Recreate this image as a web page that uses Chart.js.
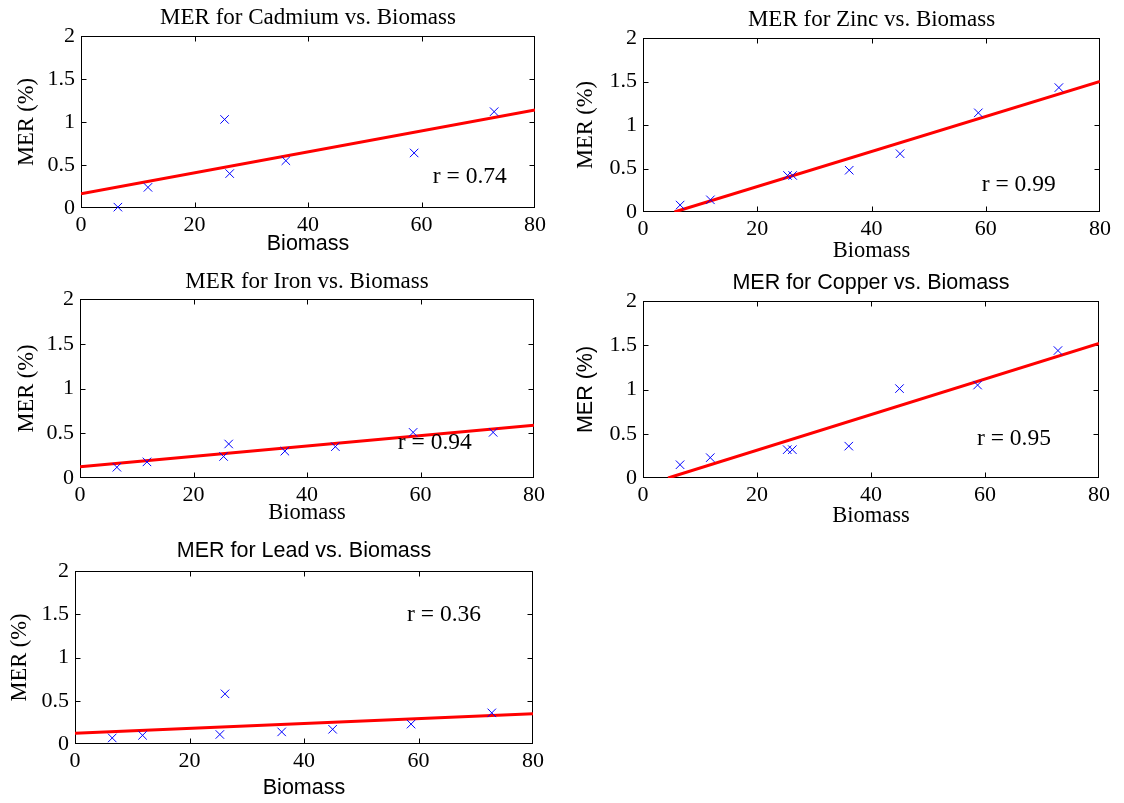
<!DOCTYPE html>
<html lang="en">
<head>
    <meta charset="UTF-8">
    <title>MER vs. Biomass</title>
    <style>
        body { margin: 0; background: #fff; }
        #figure { position: relative; width: 1124px; height: 803px; }
        #figure canvas { position: absolute; left: 0; top: 0; }
    </style>
    <script src="https://cdn.jsdelivr.net/npm/chart.js"></script>
</head>
<body>
    <div id="figure">
        <canvas id="cadmium" width="1124" height="803"></canvas>
        <canvas id="zinc" width="1124" height="803"></canvas>
        <canvas id="iron" width="1124" height="803"></canvas>
        <canvas id="copper" width="1124" height="803"></canvas>
        <canvas id="lead" width="1124" height="803"></canvas>
    </div>

    <script>
        // Biomass of the samples (shared by every metal)
        const biomass = [6.5, 11.8, 25.3, 26.2, 36.1, 45.0, 58.7, 72.8];

        // MER (%) per metal, same order as biomass (null = no measurement)
        const merCadmium = [0.01, 0.24, 1.03, 0.40, 0.55, null, 0.64, 1.12];
        const merZinc    = [0.08, 0.14, 0.42, 0.42, 0.48, 0.67, 1.14, 1.43];
        const merIron    = [0.12, 0.18, 0.24, 0.38, 0.30, 0.35, 0.51, 0.51];
        const merCopper  = [0.15, 0.23, 0.32, 0.32, 0.36, 1.01, 1.05, 1.44];
        const merLead    = [0.07, 0.10, 0.11, 0.58, 0.14, 0.17, 0.23, 0.36];

        // Regression line end points [biomass, MER]
        const fitCadmium = [[0, 0.165], [80, 1.14]];
        const fitZinc    = [[5.5, 0], [80, 1.50]];
        const fitIron    = [[0, 0.127], [80, 0.59]];
        const fitCopper  = [[4.4, 0], [80, 1.52]];
        const fitLead    = [[0, 0.124], [80, 0.35]];

        // Correlation coefficients
        const rCadmium = '0.74', rZinc = '0.99', rIron = '0.94', rCopper = '0.95', rLead = '0.36';

        // Tick labels
        const xTickValues = [0, 20, 40, 60, 80];
        const yTickValues = [0, 0.5, 1, 1.5, 2];

        const SERIF = '"Liberation Serif", "Times New Roman", serif';
        const SANS = '"Liberation Sans", Arial, sans-serif';
        const W = 1124, H = 803;

        // Each subplot: axes box in page pixels, where its labels sit, and which font each label uses
        const panels = [
            { canvas: 'cadmium', title: 'MER for Cadmium vs. Biomass', values: merCadmium, fit: fitCadmium, r: rCadmium, rAt: [62, 0.36],
              box: { l: 81, t: 36, r: 535, b: 208 }, titleY: 18, xLabelY: 244, yLabelX: 27,
              titleFont: SERIF, xFont: SANS, yFont: SERIF },
            { canvas: 'zinc', title: 'MER for Zinc vs. Biomass', values: merZinc, fit: fitZinc, r: rZinc, rAt: [59.3, 0.31],
              box: { l: 643, t: 38, r: 1100, b: 212 }, titleY: 20, xLabelY: 251, yLabelX: 586,
              titleFont: SERIF, xFont: SERIF, yFont: SERIF },
            { canvas: 'iron', title: 'MER for Iron vs. Biomass', values: merIron, fit: fitIron, r: rIron, rAt: [56, 0.39],
              box: { l: 80, t: 299, r: 534, b: 478 }, titleY: 282, xLabelY: 513, yLabelX: 27,
              titleFont: SERIF, xFont: SERIF, yFont: SERIF },
            { canvas: 'copper', title: 'MER for Copper vs. Biomass', values: merCopper, fit: fitCopper, r: rCopper, rAt: [58.6, 0.44],
              box: { l: 643, t: 301, r: 1099, b: 478 }, titleY: 283, xLabelY: 516, yLabelX: 586,
              titleFont: SANS, xFont: SERIF, yFont: SANS },
            { canvas: 'lead', title: 'MER for Lead vs. Biomass', values: merLead, fit: fitLead, r: rLead, rAt: [58, 1.49],
              box: { l: 75, t: 571, r: 533, b: 744 }, titleY: 551, xLabelY: 788, yLabelX: 20,
              titleFont: SANS, xFont: SANS, yFont: SERIF }
        ];

        // Box around the axes with inward ticks on all four sides, plus the r = ... note
        const boxAxes = {
            id: 'boxAxes',
            beforeDatasetsDraw(chart) {
                const { ctx, chartArea: a, scales: { x, y } } = chart;
                const L = Math.round(a.left) + 0.5, R = Math.round(a.right) - 0.5;
                const T = Math.round(a.top) + 0.5, B = Math.round(a.bottom) - 0.5;
                const len = 5;
                ctx.save();
                ctx.strokeStyle = '#000';
                ctx.lineWidth = 1;
                ctx.strokeRect(L, T, R - L, B - T);
                ctx.beginPath();
                xTickValues.slice(1, -1).forEach(v => {
                    const px = Math.round(x.getPixelForValue(v)) + 0.5;
                    ctx.moveTo(px, B); ctx.lineTo(px, B - len);
                    ctx.moveTo(px, T); ctx.lineTo(px, T + len);
                });
                yTickValues.slice(1, -1).forEach(v => {
                    const py = Math.round(y.getPixelForValue(v)) + 0.5;
                    ctx.moveTo(L, py); ctx.lineTo(L + len, py);
                    ctx.moveTo(R, py); ctx.lineTo(R - len, py);
                });
                ctx.stroke();
                ctx.restore();
            },
            afterDatasetsDraw(chart, args, opts) {
                const { ctx, scales: { x, y } } = chart;
                ctx.save();
                ctx.fillStyle = '#000';
                ctx.font = '23.5px ' + SERIF;
                ctx.textAlign = 'left';
                ctx.textBaseline = 'middle';
                ctx.fillText('r = ' + opts.r, x.getPixelForValue(opts.at[0]), y.getPixelForValue(opts.at[1]));
                ctx.restore();
            }
        };

        function makeChart(p) {
            const fs = 22, lh = fs * 1.2;
            const padLeft = p.yLabelX - 15;
            const padBottom = H - p.xLabelY - 15;
            const yAxisWidth = p.box.l - padLeft;
            const xAxisHeight = H - padBottom - p.box.b;
            const titleSize = p.titleFont === SERIF ? 23 : 21.5;
            const xSize = p.xFont === SERIF ? 22.5 : 21.5;
            const ySize = p.yFont === SERIF ? 22.5 : 21.5;

            const points = biomass.map((b, i) => ({ x: b, y: p.values[i] }))
                                  .filter(pt => pt.y !== null);

            return new Chart(document.getElementById(p.canvas), {
                type: 'scatter',
                data: {
                    datasets: [
                        {
                            data: points,
                            pointStyle: 'crossRot',
                            pointRadius: 6,
                            pointBorderWidth: 1,
                            pointBorderColor: '#0000ff',
                            pointBackgroundColor: '#0000ff',
                            clip: false
                        },
                        {
                            data: p.fit.map(([bx, by]) => ({ x: bx, y: by })),
                            showLine: true,
                            borderColor: '#ff0000',
                            borderWidth: 3,
                            pointRadius: 0
                        }
                    ]
                },
                options: {
                    responsive: false,
                    animation: false,
                    events: [],
                    layout: {
                        padding: { left: padLeft, right: W - p.box.r, top: p.titleY - lh / 2, bottom: padBottom }
                    },
                    plugins: {
                        legend: { display: false },
                        tooltip: { enabled: false },
                        title: {
                            display: true,
                            text: p.title,
                            fullSize: false,
                            color: '#000',
                            font: { family: p.titleFont, size: titleSize, weight: 'normal', lineHeight: lh / titleSize },
                            padding: { top: 0, bottom: p.box.t - p.titleY - lh / 2 }
                        },
                        boxAxes: { r: p.r, at: p.rAt }
                    },
                    scales: {
                        x: {
                            type: 'linear',
                            min: 0, max: 80,
                            grid: { display: false, drawTicks: false },
                            border: { display: false },
                            afterBuildTicks: s => { s.ticks = xTickValues.map(v => ({ value: v })); },
                            afterFit: s => { s.height = xAxisHeight; },
                            ticks: { color: '#000', padding: 4, maxRotation: 0, autoSkip: false,
                                     font: { family: SERIF, size: fs }, callback: v => String(v) },
                            title: {
                                display: true, text: 'Biomass', color: '#000',
                                font: { family: p.xFont, size: xSize, lineHeight: lh / xSize },
                                padding: { top: 0, bottom: 15 - lh / 2 }
                            }
                        },
                        y: {
                            type: 'linear',
                            min: 0, max: 2,
                            grid: { display: false, drawTicks: false },
                            border: { display: false },
                            afterBuildTicks: s => { s.ticks = yTickValues.map(v => ({ value: v })); },
                            afterFit: s => { s.width = yAxisWidth; },
                            ticks: { color: '#000', padding: 6, font: { family: SERIF, size: fs }, callback: v => String(v) },
                            title: {
                                display: true, text: 'MER (%)', color: '#000',
                                font: { family: p.yFont, size: ySize, lineHeight: lh / ySize },
                                padding: { top: 15 - lh / 2, bottom: 0 }
                            }
                        }
                    }
                },
                plugins: [boxAxes]
            });
        }

        panels.forEach(makeChart);
    </script>
</body>
</html>
